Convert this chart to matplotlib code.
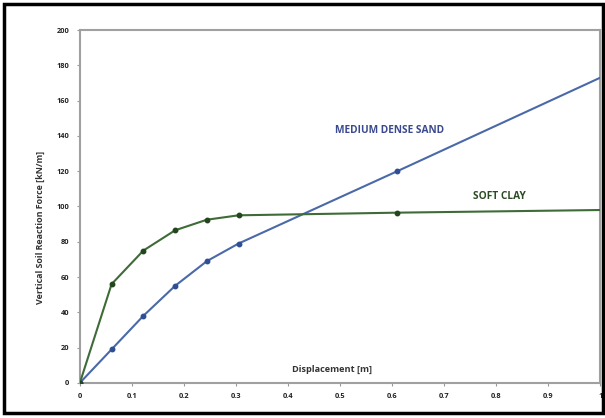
import matplotlib
matplotlib.use("Agg")
import matplotlib.pyplot as plt
from matplotlib.patches import Rectangle

displacement_sand = [0, 0.061, 0.122, 0.183, 0.244, 0.305, 0.61, 1.0]
force_sand = [0, 19, 38, 55, 69, 79, 120, 173]
displacement_clay = [0, 0.061, 0.122, 0.183, 0.244, 0.305, 0.61, 1.0]
force_clay = [0, 56, 75, 86.5, 92.5, 95, 96.5, 98]
marker_count = 7  # last point has no marker

x_ticks = [0, 0.1, 0.2, 0.3, 0.4, 0.5, 0.6, 0.7, 0.8, 0.9, 1]
x_tick_labels = ["0", "0.1", "0.2", "0.3", "0.4", "0.5", "0.6", "0.7", "0.8", "0.9", "1"]
y_ticks = [0, 20, 40, 60, 80, 100, 120, 140, 160, 180, 200]

plt.rcParams['font.family'] = ['Open Sans', 'DejaVu Sans']

fig = plt.figure(figsize=(6.05, 4.18), dpi=100)
fig.patches.append(Rectangle((0.006, 0.012), 0.99, 0.978, transform=fig.transFigure,
                             fill=False, edgecolor='black', linewidth=2.5))

ax = fig.add_axes([0.132, 0.084, 0.860, 0.844])

sand_col = '#4a69a8'
sand_mk = '#2f4f94'
clay_col = '#3e6b37'
clay_mk = '#24461f'

ax.plot(displacement_sand, force_sand, color=sand_col, lw=1.5, zorder=3)
ax.plot(displacement_sand[:marker_count], force_sand[:marker_count], 'o', color=sand_mk,
        ms=3.2, zorder=4)
ax.plot(displacement_clay, force_clay, color=clay_col, lw=1.5, zorder=3)
ax.plot(displacement_clay[:marker_count], force_clay[:marker_count], 'o', color=clay_mk,
        ms=3.2, zorder=5)

ax.set_xlim(0, 1)
ax.set_ylim(0, 200)
ax.set_xticks(x_ticks)
ax.set_xticklabels(x_tick_labels)
ax.set_yticks(y_ticks)
ax.tick_params(axis='both', labelsize=5.3, length=2.5, width=0.8, color='#999999',
               pad=5, labelcolor='#222222')
for lab in ax.get_xticklabels() + ax.get_yticklabels():
    lab.set_fontweight('bold')

for s in ax.spines.values():
    s.set_color('#a0a0a0')
    s.set_linewidth(1.5)

ax.set_ylabel('Vertical Soil Reaction Force [kN/m]', fontsize=6.4, fontweight='bold',
              color='#333333')
ax.yaxis.set_label_coords(-0.067, 0.442)
ax.text(0.485, 0.037, 'Displacement [m]', transform=ax.transAxes, ha='center', va='center',
        fontsize=6.6, fontweight='bold', color='#333333')

ax.text(0.596, 143, 'MEDIUM DENSE SAND', ha='center', va='center', fontsize=7.3,
        fontweight='bold', color='#3b4a8f')
ax.text(0.807, 105.5, 'SOFT CLAY', ha='center', va='center', fontsize=7.3,
        fontweight='bold', color='#2d4a26')

fig.savefig('out.png', dpi=100)
